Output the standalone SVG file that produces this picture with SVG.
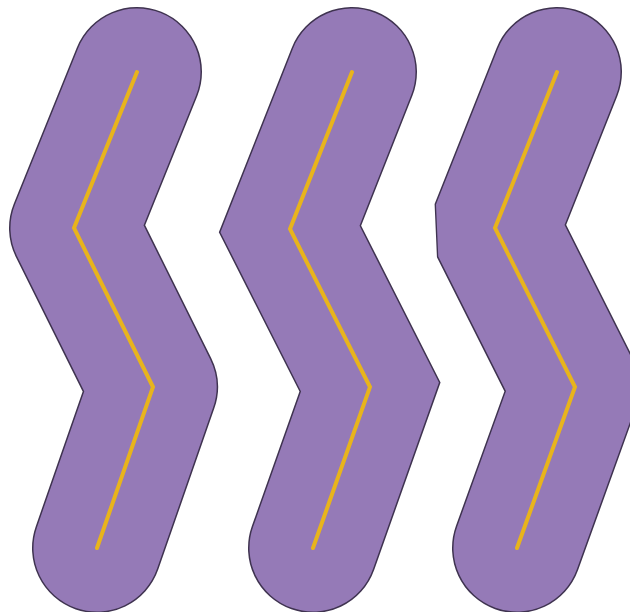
<svg xmlns="http://www.w3.org/2000/svg" width="630" height="612" viewBox="0 0 630 612">
<style>
.o{fill:none;stroke:#3f3350;stroke-width:130;stroke-linecap:round}
.f{fill:none;stroke:#957ab7;stroke-width:127;stroke-linecap:round}
.c{fill:none;stroke:#e8b41c;stroke-width:4;stroke-linecap:round;stroke-linejoin:miter}
.r{stroke-linejoin:round}.m{stroke-linejoin:miter;stroke-miterlimit:10}.b{stroke-linejoin:bevel}
</style>
<rect width="630" height="612" fill="#ffffff"/>
<g id="round">
<path class="o r" d="M137,72 L74,228 L153,387 L97,548"/>
<path class="f r" d="M137,72 L74,228 L153,387 L97,548"/>
<path class="c" d="M137,72 L74,228 L153,387 L97,548"/>
</g>
<g id="miter">
<path class="o m" d="M352,72 L290,229 L370,387 L313,548"/>
<path class="f m" d="M352,72 L290,229 L370,387 L313,548"/>
<path class="c" d="M352,72 L290,229 L370,387 L313,548"/>
</g>
<g id="bevel">
<path class="o b" d="M557,72 L495,228 L575,387 L517,548"/>
<path class="f b" d="M557,72 L495,228 L575,387 L517,548"/>
<path class="c" d="M557,72 L495,228 L575,387 L517,548"/>
</g>
</svg>
